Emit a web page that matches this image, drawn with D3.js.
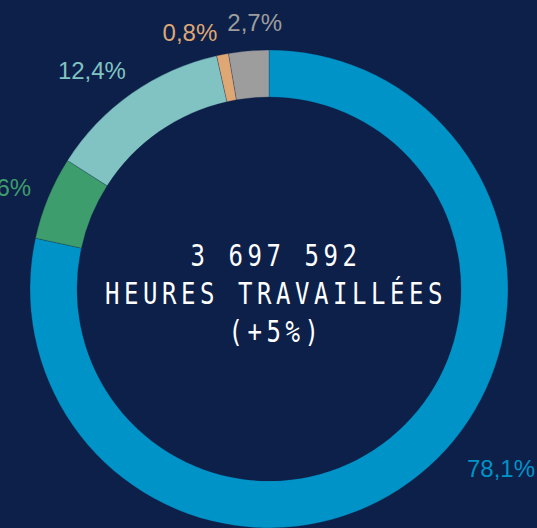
<!DOCTYPE html>
<html>
<head>
<meta charset="utf-8">
<script src="https://cdn.jsdelivr.net/npm/d3@7/dist/d3.min.js"></script>
<style>
  html, body { margin: 0; padding: 0; background: #0c2049; overflow: hidden; }
  svg { display: block; }
</style>
</head>
<body>
<svg id="chart" width="537" height="528"></svg>
<script>
// parts of the total hours, clockwise from 12 o'clock
const categories = ['bleu', 'vert', 'turquoise', 'orange', 'gris'];
const values = [78.1, 5.6, 12.4, 0.8, 2.7];
const colors = ['#0093c8', '#3e9d6c', '#81c3c2', '#dfa774', '#9d9d9e'];
const centerLines = ['3 697 592', 'HEURES TRAVAILLÉES', '(+5%)'];

// label placement tweaks (degrees / radius) so labels do not overlap
const labelLayout = {
  bleu: { da: -13.5, r: 293 },
  vert: { da: -1.5, r: 284 },
  turquoise: { da: -4, r: 281 },
  orange: { da: -5.9, r: 269 },
  gris: { da: 1.8, r: 267 },
};

const cx = 269;
const cy = 289;
const outerR = 239;
const innerR = 192;
const squeeze = 0.8; // condensed look for the centre text

const fmt = v => d3.format('.1f')(v).replace('.', ',') + '%';

const svg = d3.select('#chart');
svg.selectAll('*').remove();

const data = categories.map((c, i) => ({ key: c, value: values[i], color: colors[i] }));

const pie = d3.pie()
  .sort(null)
  .value(d => d.value);

const arc = d3.arc()
  .innerRadius(innerR)
  .outerRadius(outerR);

const arcs = pie(data);

const g = svg.append('g')
  .attr('transform', 'translate(' + cx + ', ' + cy + ')');

g.append('g')
  .attr('class', 'slices')
  .selectAll('path')
  .data(arcs)
  .enter()
  .append('path')
  .attr('d', arc)
  .attr('fill', d => d.data.color)
  .attr('stroke', '#0c2049')
  .attr('stroke-opacity', 0.5)
  .attr('stroke-width', 0.5);

const labelPos = d => {
  const l = labelLayout[d.data.key];
  const a = (d.startAngle + d.endAngle) / 2 + l.da * Math.PI / 180;
  return [l.r * Math.sin(a), -l.r * Math.cos(a)];
};

g.append('g')
  .attr('class', 'labels')
  .selectAll('text')
  .data(arcs)
  .enter()
  .append('text')
  .attr('x', d => labelPos(d)[0])
  .attr('y', d => labelPos(d)[1])
  .attr('dy', '0.36em')
  .attr('text-anchor', 'middle')
  .attr('fill', d => d.data.color)
  .style('font-family', '"Liberation Sans", Arial, sans-serif')
  .style('font-size', '24px')
  .text(d => fmt(d.value));

const center = g.append('g')
  .attr('transform', 'translate(7, 0) scale(' + squeeze + ', 1)')
  .append('text')
  .attr('class', 'center')
  .attr('text-anchor', 'middle')
  .attr('fill', '#ffffff')
  .style('font-family', '"DejaVu Sans Mono", monospace')
  .style('font-size', '30px')
  .style('letter-spacing', (19 / squeeze - 18.06) + 'px');

center.selectAll('tspan')
  .data(centerLines)
  .enter()
  .append('tspan')
  .attr('x', 0)
  .attr('y', (d, i) => -23 + i * 38)
  .text(d => d);
</script>
</body>
</html>
